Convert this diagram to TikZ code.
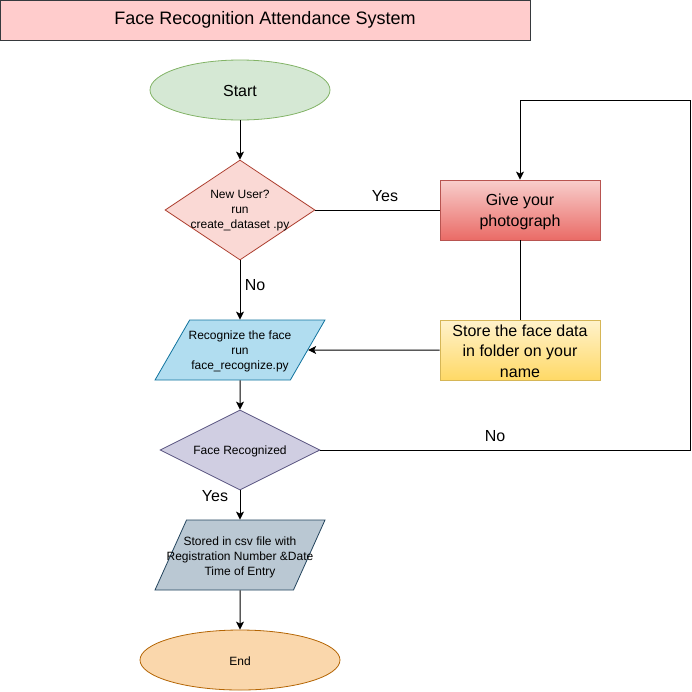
\documentclass[tikz,border=0pt]{standalone}
\usepackage{fontspec}
\setmainfont{Liberation Sans}
\usetikzlibrary{shapes.geometric,arrows.meta}
\definecolor{titlefill}{HTML}{FFCCCC}
\definecolor{titleborder}{HTML}{36393D}
\definecolor{startfill}{HTML}{D5E8D4}
\definecolor{startborder}{HTML}{82B366}
\definecolor{donefill}{HTML}{FAD9D5}
\definecolor{doneborder}{HTML}{AE4132}
\definecolor{givetop}{HTML}{F8CECC}
\definecolor{givebot}{HTML}{EA6B66}
\definecolor{giveborder}{HTML}{B85450}
\definecolor{storetop}{HTML}{FFF2CC}
\definecolor{storebot}{HTML}{FFD966}
\definecolor{storeborder}{HTML}{D6B656}
\definecolor{recfill}{HTML}{B1DDF0}
\definecolor{recborder}{HTML}{10739E}
\definecolor{dtwofill}{HTML}{D0CEE2}
\definecolor{dtwoborder}{HTML}{56517E}
\definecolor{storedfill}{HTML}{BAC8D3}
\definecolor{storedborder}{HTML}{23445D}
\definecolor{endfill}{HTML}{FAD7AC}
\definecolor{endborder}{HTML}{B46504}
\begin{document}
\begin{tikzpicture}[x=1pt,y=-1pt,
  base/.style={draw, line width=0.8pt, align=center, inner sep=0pt},
  smalltxt/.style={font=\fontsize{12}{15}\selectfont, align=center, inner sep=0pt},
  bigtxt/.style={font=\fontsize{16}{20.5}\selectfont, align=center, inner sep=0pt},
  conn/.style={line width=1pt, draw=black},
  arr/.style={conn, -{Stealth[length=8pt,width=8pt,inset=2pt]}},
  lbl/.style={font=\fontsize{16}{19}\selectfont, inner sep=0pt},
  para/.style={draw, line width=0.8pt, inner sep=2pt, trapezium, trapezium stretches=true}]
\useasboundingbox (0,0) rectangle (692,691);
% title
\node[base, fill=titlefill, draw=titleborder, minimum width=530pt, minimum height=40pt,
      font=\fontsize{18}{21}\selectfont] (title) at (265,20) {Face Recognition Attendance System};
% start
\node[base, ellipse, fill=startfill, draw=startborder, minimum width=180pt, minimum height=60pt] (start) at (240,90) {};
\node[lbl] (startt) at (240,91) {Start};
% decision 1
\node[base, diamond, fill=donefill, draw=doneborder, minimum width=150pt, minimum height=100pt] (d1) at (240,210) {};
\node[smalltxt] (d1t) at (240,211) {New User?\\run\\create\_dataset .py};
% give photo
\node[base, top color=givetop, bottom color=givebot, draw=giveborder, minimum width=160pt, minimum height=60pt] (give) at (520,210) {};
\node[bigtxt] (givet) at (520,212) {Give your\\photograph};
% store
\node[base, top color=storetop, bottom color=storebot, draw=storeborder, minimum width=160pt, minimum height=60pt] (store) at (520,350) {};
\node[bigtxt] (storet) at (520,351) {Store the face data\\in folder on your\\name};
% recognize
\node[para, trapezium left angle=71.57, trapezium right angle=108.43, fill=recfill, draw=recborder,
      minimum width=170pt, minimum height=60pt] (rec) at (240,350) {\phantom{x}};
\node[smalltxt] (rect) at (240,351) {Recognize the face\\run\\face\_recognize.py};
% decision 2
\node[base, diamond, fill=dtwofill, draw=dtwoborder, minimum width=160pt, minimum height=80pt] (d2) at (240,450) {};
\node[smalltxt] (d2t) at (240,451) {Face Recognized};
% stored
\node[para, trapezium left angle=74.05, trapezium right angle=105.95, fill=storedfill, draw=storedborder,
      minimum width=170pt, minimum height=70pt] (stored) at (240,555) {\phantom{x}};
\node[smalltxt] (storedt) at (240,557) {Stored in csv file with\\Registration Number \&Date\\Time of Entry};
% end
\node[base, ellipse, fill=endfill, draw=endborder, minimum width=200pt, minimum height=60pt] (end) at (240,660) {};
\node[smalltxt] (endt) at (240,661) {End};
% connectors
\coordinate (loopR) at (690,100);
\draw[arr] (start) -- (d1);
\draw[conn] (d1.east) -- (give.west);
\node[lbl] (yes1) at (385,196) {Yes};
\draw[conn] (give) -- (store);
\draw[arr] (store.west) -- (rec.east);
\draw[arr] (d1) -- (rec);
\node[lbl] (no1) at (255,285) {No};
\draw[arr] (rec) -- (d2);
\draw[arr] (d2.east) -| (loopR) -| (give.north);
\node[lbl] (no2) at (495,436) {No};
\draw[arr] (d2) -- (stored);
\node[lbl] (yes2) at (215,496) {Yes};
\draw[arr] (stored) -- (end);
\end{tikzpicture}
\end{document}
